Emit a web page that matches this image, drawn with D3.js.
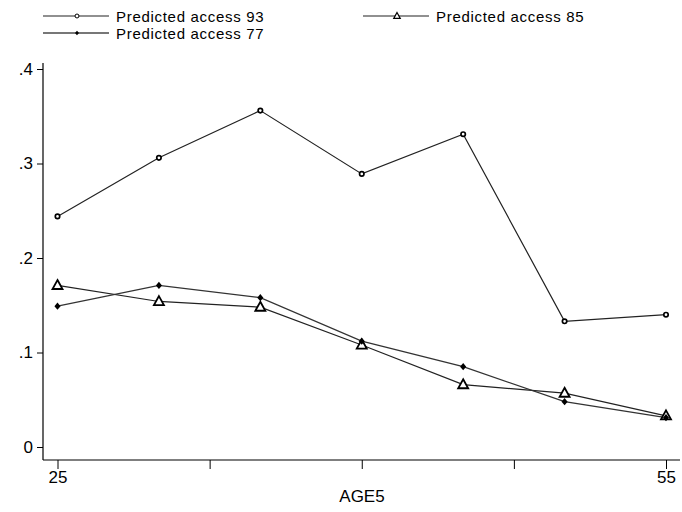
<!DOCTYPE html>
<html><head><meta charset="utf-8">
<script src="https://cdn.jsdelivr.net/npm/d3@7"></script>
<style>body{margin:0;background:#fff}svg{display:block}text{font-family:"Liberation Sans",Arial,sans-serif;fill:#000}</style>
</head><body><svg id="c" width="682" height="512"></svg>
<script>
const ages = [25, 30, 35, 40, 45, 50, 55];
const access93 = [0.244, 0.306, 0.356, 0.289, 0.331, 0.133, 0.140];
const access85 = [0.171, 0.154, 0.148, 0.108, 0.066, 0.057, 0.033];
const access77 = [0.149, 0.171, 0.158, 0.112, 0.085, 0.048, 0.031];
const yTicks = [0, 0.1, 0.2, 0.3, 0.4];
const yTickLabels = ["0", ".1", ".2", ".3", ".4"];
const xTicks = [25, 32.5, 40, 47.5, 55];
const xTickLabels = ["25", "", "", "", "55"];
const seriesNames = ["Predicted access 93", "Predicted access 85", "Predicted access 77"];

const svg = d3.select("#c");
const x = d3.scaleLinear().domain([25, 55]).range([57.5, 666]);
const y = d3.scaleLinear().domain([0, 0.4]).range([447, 69]);
const axisLeftX = 43, axisBottomY = 460;

svg.append("line").attr("x1", axisLeftX).attr("x2", axisLeftX).attr("y1", 63).attr("y2", axisBottomY)
  .attr("stroke", "#000").attr("stroke-width", 1.2);
svg.append("line").attr("x1", axisLeftX).attr("x2", 680).attr("y1", axisBottomY).attr("y2", axisBottomY)
  .attr("stroke", "#000").attr("stroke-width", 1.2);

const yAxis = d3.axisLeft(y).tickValues(yTicks).tickFormat((d, i) => yTickLabels[i]).tickSize(6).tickPadding(4);
const gy = svg.append("g").attr("transform", `translate(${axisLeftX},0)`).call(yAxis);
gy.select(".domain").remove();
gy.selectAll("line").attr("stroke", "#000");
gy.selectAll("text").style("font-size", "17px").attr("fill", "#000");

const xAxis = d3.axisBottom(x).tickValues(xTicks).tickFormat((d, i) => xTickLabels[i]).tickSize(9).tickPadding(2);
const gx = svg.append("g").attr("transform", `translate(0,${axisBottomY})`).call(xAxis);
gx.select(".domain").remove();
gx.selectAll("line").attr("stroke", "#000");
gx.selectAll("text").style("font-size", "17px").attr("fill", "#000");

svg.append("text").attr("x", 362).attr("y", 502).attr("text-anchor", "middle").style("font-size", "17px").text("AGE5");

const line = d3.line().x((d, i) => x(ages[i])).y(d => y(d));
const series = [
  {vals: access93, color: "#222", shape: "circle"},
  {vals: access85, color: "#222", shape: "triangle"},
  {vals: access77, color: "#333", shape: "diamond"}
];

function marker(g, shape, cx, cy, s) {
  if (shape === "circle") {
    g.append("circle").attr("cx", cx).attr("cy", cy).attr("r", 2.2 * s)
      .attr("fill", "#fff").attr("stroke", "#000").attr("stroke-width", s < 1 ? 1 : 1.7);
  } else if (shape === "triangle") {
    const h = 9 * s, w = 10 * s;
    g.append("path").attr("d", `M${cx},${cy - h * 0.6}L${cx + w / 2},${cy + h * 0.4}L${cx - w / 2},${cy + h * 0.4}Z`)
      .attr("fill", "#fff").attr("stroke", "#000").attr("stroke-width", s < 1 ? 1.2 : 1.8);
  } else {
    const r = 3.6 * s;
    g.append("path").attr("d", `M${cx},${cy - r}L${cx + r * 0.85},${cy}L${cx},${cy + r}L${cx - r * 0.85},${cy}Z`)
      .attr("fill", "#000");
  }
}

series.forEach(s => {
  svg.append("path").datum(s.vals).attr("d", line).attr("fill", "none")
    .attr("stroke", s.color).attr("stroke-width", 1.2);
});
series.forEach(s => {
  const g = svg.append("g");
  s.vals.forEach((v, i) => marker(g, s.shape, x(ages[i]), y(v), 1));
});

const legendPos = [{x: 43, y: 16}, {x: 363, y: 16}, {x: 43, y: 33}];
series.forEach((s, i) => {
  const p = legendPos[i];
  const g = svg.append("g");
  g.append("line").attr("x1", p.x).attr("x2", p.x + 66).attr("y1", p.y).attr("y2", p.y)
    .attr("stroke", i === 2 ? "#777" : "#222").attr("stroke-width", i === 2 ? 1.8 : 1.2);
  marker(g, s.shape, p.x + 34, p.y, i === 0 ? 0.9 : 0.65);
  g.append("text").attr("x", p.x + 73).attr("y", p.y + 5.5).style("font-size", "15px")
    .style("letter-spacing", "0.7px").text(seriesNames[i]);
});
</script></body></html>
